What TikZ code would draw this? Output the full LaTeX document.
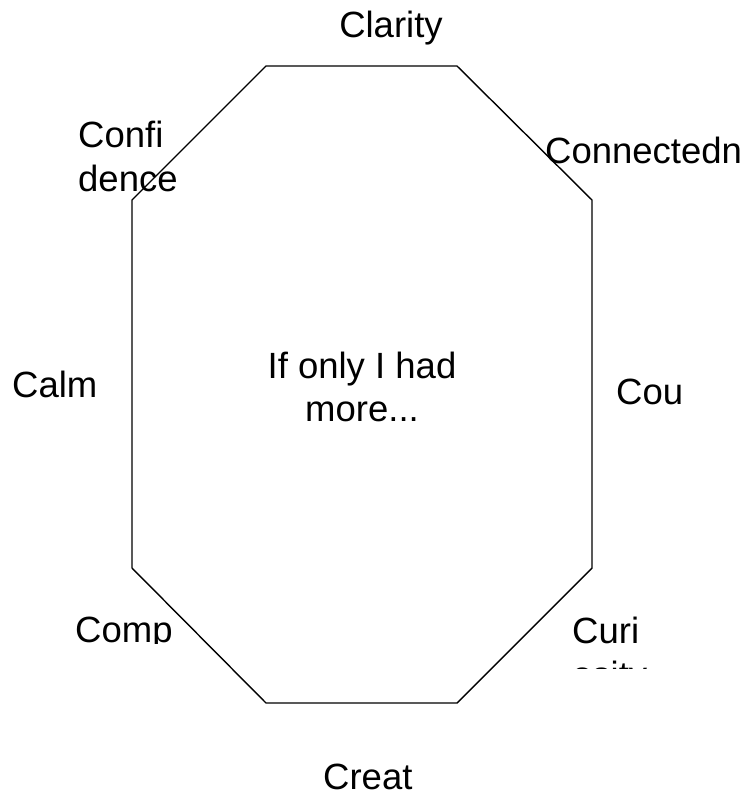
\documentclass[tikz,border=0pt]{standalone}
\usepackage{fontspec}
\setmainfont{Liberation Sans}
\begin{document}
\begin{tikzpicture}[x=1pt,y=-1pt,
  lbl/.style={inner sep=0pt,font=\fontsize{36.5}{44}\selectfont},
  lblw/.style={lbl,anchor=base west},
  lblc/.style={lbl,anchor=base},
  octo/.style={draw=black,line width=1.4pt,line join=miter}]
\useasboundingbox[fill=white] (0,0) rectangle (747,796);
\coordinate (v1) at (266,66);
\coordinate (v2) at (457,66);
\coordinate (v3) at (592,200);
\coordinate (v4) at (592,568);
\coordinate (v5) at (457,703);
\coordinate (v6) at (266,703);
\coordinate (v7) at (132,568);
\coordinate (v8) at (132,200);
\draw[octo] (v1) -- (v2) -- (v3) -- (v4) -- (v5) -- (v6) -- (v7) -- (v8) -- cycle;
\node[lblc] (center1) at (362,378) {If only I had};
\node[lblc] (center2) at (362,421) {more...};
\node[lblc] (clarity) at (391,37) {Clarity};
\node[lblw] (connect) at (545,163) {Connectedn};
\node[lblw] (confi1) at (78,147) {Confi};
\node[lblw] (confi2) at (78,191) {dence};
\node[lblw] (calm) at (12,397) {Calm};
\node[lblw] (cou) at (616,404) {Cou};
\begin{scope}
\clip (0,0) rectangle (300,643);
\node[lblw] (comp) at (75,642) {Comp};
\end{scope}
\begin{scope}
\clip (540,600) rectangle (747,668);
\node[lblw] (curi1) at (572,643) {Curi};
\node[lblw] (curi2) at (572,687) {osity};
\end{scope}
\node[lblw] (creat) at (323,789) {Creat};
\end{tikzpicture}
\end{document}
